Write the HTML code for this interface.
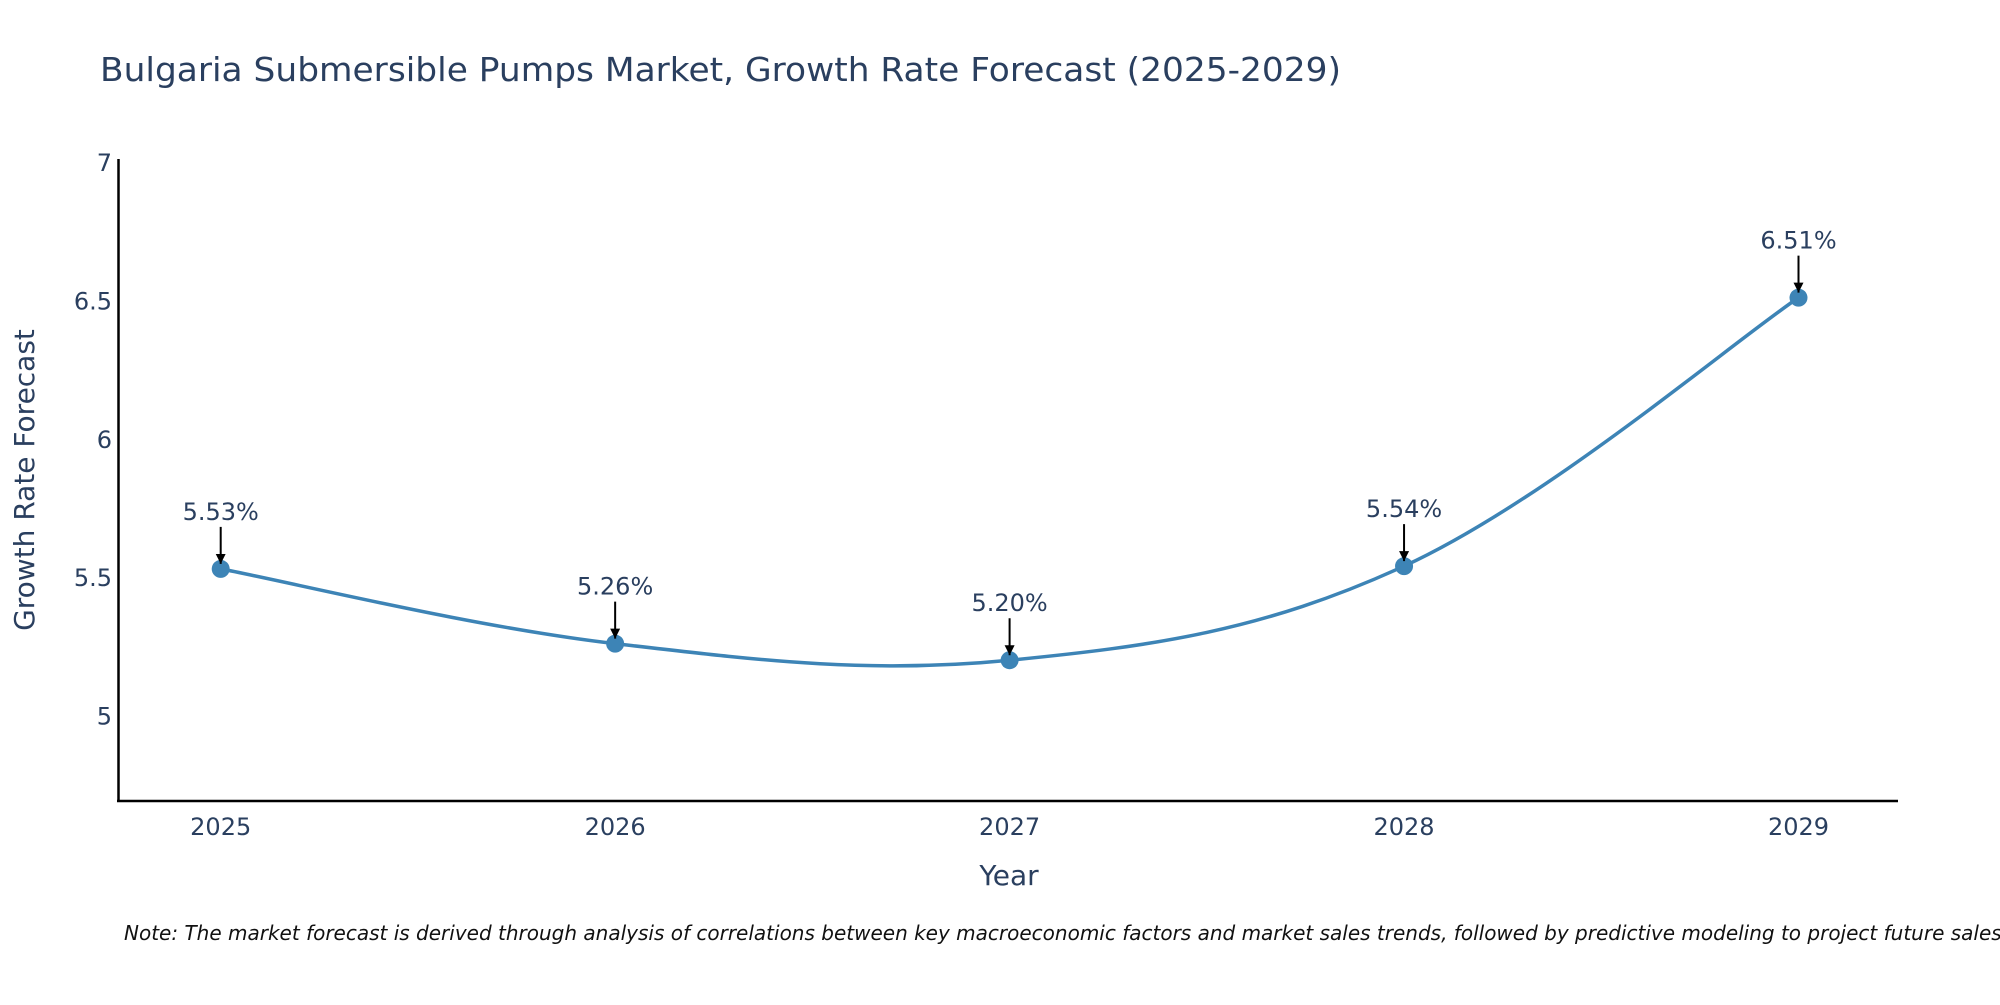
<!DOCTYPE html>
<html><head><meta charset="utf-8"><style>
body{margin:0;background:#fff}
svg text{font-family:"DejaVu Sans","Liberation Sans",sans-serif;fill:#2a3f5f}
</style></head><body>
<svg width="2000" height="1000" xmlns="http://www.w3.org/2000/svg">
<defs><marker id="ah" viewBox="0 0 10 10" refX="10" refY="5" markerWidth="5" markerHeight="5" orient="auto"><path d="M0,0 L10,5 L0,10 z" fill="#000"/></marker></defs>
<text x="100" y="81" font-size="33" textLength="1241" lengthAdjust="spacingAndGlyphs">Bulgaria Submersible Pumps Market, Growth Rate Forecast (2025-2029)</text>
<g id="yticks"></g>
<g id="xticks"></g>
<line x1="118.5" y1="159" x2="118.5" y2="802" stroke="#000" stroke-width="2.5"/>
<line x1="117" y1="801" x2="1898" y2="801" stroke="#000" stroke-width="2.5"/>
<text transform="translate(34,480) rotate(-90)" text-anchor="middle" font-size="28">Growth Rate Forecast</text>
<text x="1009" y="885" text-anchor="middle" font-size="28">Year</text>
<path id="line" fill="none" stroke="#3d84b6" stroke-width="3.5"/>
<g id="pts"></g>
<text x="124" y="940" font-size="20" font-style="italic" style="fill:#111">Note: The market forecast is derived through analysis of correlations between key macroeconomic factors and market sales trends, followed by predictive modeling to project future sales</text>
</svg>
<script>
const years=[2025,2026,2027,2028,2029];
const values=[5.53,5.26,5.20,5.54,6.51];
const labels=["5.53%","5.26%","5.20%","5.54%","6.51%"];
const yTicks=[5,5.5,6,6.5,7];
const NS="http://www.w3.org/2000/svg";
const X=v=>220.7+(v-2025)*(1798.5-220.7)/4;
const Y=v=>715.6-(v-5)*276.8;
function mk(t,a,p){const e=document.createElementNS(NS,t);for(const k in a)e.setAttribute(k,a[k]);p.appendChild(e);return e;}
const yt=document.getElementById('yticks');
yTicks.forEach(t=>{const e=mk('text',{x:112,y:Y(t)+9,'text-anchor':'end','font-size':24},yt);


e.textContent=String(t);});
const xt=document.getElementById('xticks');
years.forEach(t=>{const e=mk('text',{x:X(t),y:835,'text-anchor':'middle','font-size':24},xt);


e.textContent=String(t);});
const P=years.map((y,i)=>[X(y),Y(values[i])]);
let d='M'+P[0][0]+','+P[0][1];
const s=0.36;
for(let i=0;i<P.length-1;i++){const p0=P[Math.max(i-1,0)],p1=P[i],p2=P[i+1],p3=P[Math.min(i+2,P.length-1)];
const c1=[p1[0]+(p2[0]-p0[0])*s/2,p1[1]+(p2[1]-p0[1])*s/2],c2=[p2[0]-(p3[0]-p1[0])*s/2,p2[1]-(p3[1]-p1[1])*s/2];
d+=` C${c1[0]},${c1[1]} ${c2[0]},${c2[1]} ${p2[0]},${p2[1]}`;}
document.getElementById('line').setAttribute('d',d);
const g=document.getElementById('pts');
P.forEach((p,i)=>{const c=mk('circle',{cx:p[0],cy:p[1],r:9,fill:'#3d84b6'},g);


const a=mk('line',{x1:p[0],y1:p[1]-42,x2:p[0],y2:p[1]-5,stroke:'#000','stroke-width':2,'marker-end':'url(#ah)'},g);


const t=mk('text',{x:p[0],y:p[1]-49,'text-anchor':'middle','font-size':24},g);


t.textContent=labels[i];});
</script>
</body></html>
